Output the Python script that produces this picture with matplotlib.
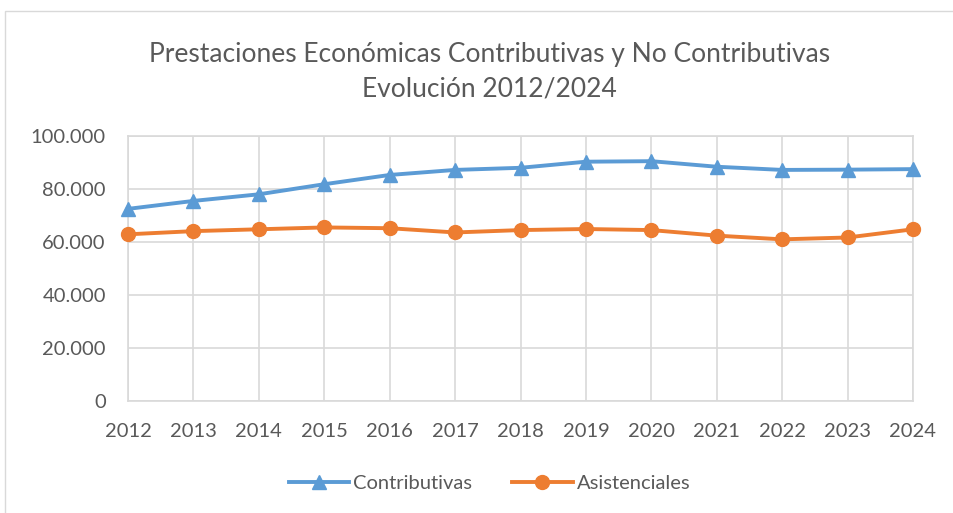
import matplotlib.pyplot as plt
from matplotlib.patches import Rectangle

years = [2012, 2013, 2014, 2015, 2016, 2017, 2018, 2019, 2020, 2021, 2022, 2023, 2024]
contributivas = [72500, 75500, 78000, 81800, 85300, 87200, 88000, 90300, 90500, 88400, 87200, 87300, 87500]
asistenciales = [62900, 64100, 64800, 65500, 65200, 63600, 64500, 64900, 64500, 62400, 61000, 61700, 64800]
y_ticks = [0, 20000, 40000, 60000, 80000, 100000]
y_labels = ["0", "20.000", "40.000", "60.000", "80.000", "100.000"]

plt.rcParams['font.family'] = ['Lato', 'DejaVu Sans']
gray = "#595959"

fig = plt.figure(figsize=(9.54, 5.13), dpi=100)
fig.patches.append(Rectangle((5 / 954, -0.1), 1.2, (513 - 11) / 513 + 0.1, transform=fig.transFigure,
                             fill=False, edgecolor="#d9d9d9", linewidth=1))
ax = fig.add_axes([128 / 954, 1 - 401 / 513, (913 - 128) / 954, (401 - 136) / 513])

ax.plot(years, contributivas, color="#5B9BD5", lw=2.8, marker="^", ms=10, label="Contributivas", clip_on=False, zorder=3)
ax.plot(years, asistenciales, color="#ED7D31", lw=2.8, marker="o", ms=10, label="Asistenciales", clip_on=False, zorder=3)

ax.set_xlim(2012, 2024)
ax.set_ylim(0, 100000)
ax.set_xticks(years)
ax.set_yticks(y_ticks)
ax.set_yticklabels(y_labels)
ax.grid(True, color="#d9d9d9", lw=1.2)
ax.set_axisbelow(True)
for s in ax.spines.values():
    s.set_color("#d9d9d9")
    s.set_linewidth(1.2)
ax.tick_params(length=0, labelsize=14.5, labelcolor=gray)
ax.tick_params(axis="x", pad=16)
ax.tick_params(axis="y", pad=16)

fig.text(0.513, 0.86, "Prestaciones Económicas Contributivas y No Contributivas\nEvolución 2012/2024",
         ha="center", va="center", fontsize=19, color=gray, linespacing=1.5)

fig.legend(loc="center", bbox_to_anchor=(0.513, 0.058), ncol=2, frameon=False, fontsize=14.5,
           labelcolor=gray, handlelength=3, columnspacing=2, handletextpad=0.2)

plt.savefig("out.png", dpi=100)
